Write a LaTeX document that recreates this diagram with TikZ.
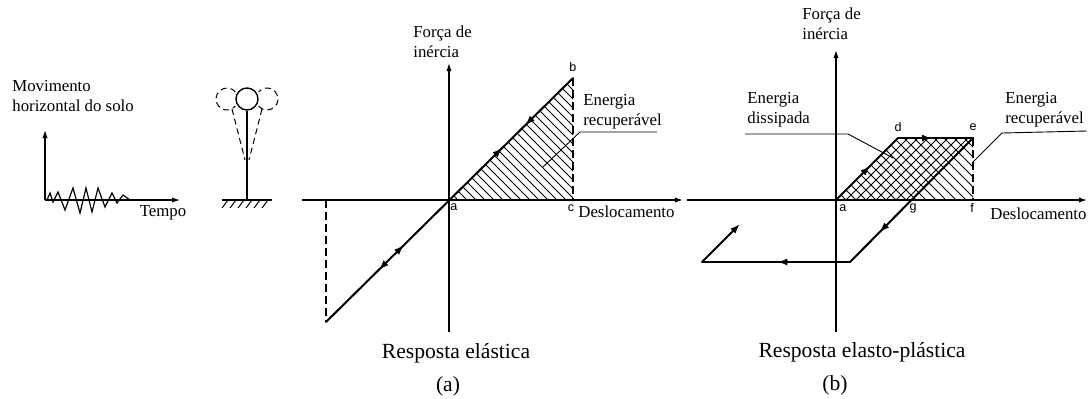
\documentclass[tikz,border=0pt]{standalone}
\usepackage{fontspec}
\setmainfont{Liberation Serif}
\newfontfamily\ptfont{Liberation Sans}
\usetikzlibrary{arrows.meta,decorations.markings}

\tikzset{
  txt/.style={font=\fontsize{8.4}{10}\selectfont, inner sep=0pt, align=left},
  ttl/.style={font=\fontsize{10.8}{12}\selectfont, inner sep=0pt},
  pt/.style={font=\ptfont\fontsize{6.3}{7}\selectfont, inner sep=0pt},
  ax/.style={line width=0.6pt},
  axarr/.style={ax, -{Latex[length=4pt,width=2.6pt]}},
  resp/.style={line width=1pt, line cap=round},
  guide/.style={line width=0.6pt, dash pattern=on 4pt off 2pt},
  hatch/.style={line width=0.5pt},
  lead/.style={line width=0.45pt},
  fwd/.style={postaction={decorate,decoration={markings,
      mark=at position #1 with {\arrow{Latex[length=5pt,width=3.6pt]}}}}},
  bwd/.style={postaction={decorate,decoration={markings,
      mark=at position #1 with {\arrowreversed{Latex[length=5pt,width=3.6pt]}}}}}
}

\begin{document}
\begin{tikzpicture}[x=0.5pt,y=-0.5pt]
  \useasboundingbox (0,0) rectangle (1089,398);

  % ground motion record
  \coordinate (gO) at (45,200); \coordinate (gY) at (45,130);
  \coordinate (gT) at (180,200);
  \draw [axarr] (gO) -- (gY); \draw [axarr] (gO) -- (gT);
  \draw [ax] (47,200) -- (50,193) -- (53,202) -- (58,192) -- (65,210)
    -- (73,188) -- (80,213) -- (86,188) -- (92,212) -- (98,188)
    -- (105,207) -- (112,193) -- (117,203) -- (123,195) -- (130,200);
  \node [txt, anchor=west] (mov) at (12,96) {Movimento\\horizontal do solo};
  \node [txt] (tempo) at (163,213) {Tempo};

  % structure on the ground
  \coordinate (grL) at (222,200); \coordinate (grR) at (272,200);
  \coordinate (rod) at (247,200);
  \draw [ax] (grL) -- (grR);
  \foreach \x in {228,236,...,268} \draw [hatch] (\x,200) -- (\x-6,208);
  \node [circle, draw, line width=0.7pt, minimum size=11pt, inner sep=0pt]
    (mass) at (247,99) {};
  \draw [ax] (rod) -- (mass.south);
  \coordinate (mL) at (227,99); \coordinate (mR) at (267,99);
  \draw [guide, line width=0.5pt, dash pattern=on 3pt off 2pt]
    ([shift={(40:5.5pt)}]mL) arc [start angle=40, end angle=320, radius=5.5pt];
  \draw [guide, line width=0.5pt, dash pattern=on 3pt off 2pt]
    ([shift={(-140:5.5pt)}]mR) arc [start angle=-140, end angle=140, radius=5.5pt];
  \coordinate (swL) at (232,109); \coordinate (swR) at (262,109);
  \coordinate (tipL) at (245,160); \coordinate (tipR) at (249,160);
  \draw [guide, line width=0.5pt, dash pattern=on 3pt off 2pt] (swL) -- (tipL);
  \draw [guide, line width=0.5pt, dash pattern=on 3pt off 2pt] (swR) -- (tipR);

  % (a) elastic response
  \coordinate (oA) at (449,200); \coordinate (bA) at (573,78);
  \coordinate (cA) at (573,200); \coordinate (lA) at (326,322);
  \coordinate (lxA) at (326,200);
  \coordinate (xsA) at (302,200); \coordinate (xeA) at (683,200);
  \coordinate (ysA) at (449,332); \coordinate (yeA) at (449,63);
  \begin{scope}
    \clip (oA) -- (bA) -- (cA) -- cycle;
    \foreach \s in {258,267,...,495} \draw [hatch] (\s+60,60) -- (\s+210,210);
  \end{scope}
  \draw [axarr] (xsA) -- (xeA); \draw [axarr] (ysA) -- (yeA);
  \draw [guide] (bA) -- (cA); \draw [guide] (lxA) -- (lA);
  \draw [resp, bwd=0.214, fwd=0.315, fwd=0.714, bwd=0.806] (lA) -- (bA);
  \node [pt] (labA) at (454,207) {a}; \node [pt] (labB) at (573,67) {b};
  \node [pt] (labC) at (571,208) {c};
  \node [txt, anchor=west] (desA) at (578,212) {Deslocamento};
  \node [txt, anchor=west] (forA) at (413,42) {Força de\\inércia};
  \node [txt, anchor=west] (recA) at (583,112) {Energia\\recuperável};
  \coordinate (u1A) at (580,132); \coordinate (u2A) at (657,132);
  \coordinate (u3A) at (543,167);
  \draw [lead] (u2A) -- (u1A) -- (u3A);
  \node [ttl] (tA) at (456,353) {Resposta elástica};
  \node [ttl] (capA) at (448,386) {(a)};

  % (b) elasto-plastic response
  \coordinate (oB) at (836,200); \coordinate (dB) at (898,138);
  \coordinate (eB) at (973,138); \coordinate (fB) at (973,200);
  \coordinate (gB) at (912,200); \coordinate (pB) at (850,262);
  \coordinate (qB) at (702,262); \coordinate (rB) at (740,224);
  \coordinate (xsB) at (687,200); \coordinate (xeB) at (1087,200);
  \coordinate (ysB) at (836,332); \coordinate (yeB) at (836,50);
  \begin{scope}
    \clip (oB) -- (dB) -- (eB) -- (fB) -- cycle;
    \foreach \s in {646,656,...,830} \draw [hatch] (\s+100,100) -- (\s+220,220);
  \end{scope}
  \begin{scope}
    \clip (oB) -- (dB) -- (eB) -- (gB) -- cycle;
    \foreach \s in {1046,1056,...,1106} \draw [hatch] (\s-100,100) -- (\s-220,220);
  \end{scope}
  \draw [axarr] (xsB) -- (xeB); \draw [axarr] (ysB) -- (yeB);
  \draw [guide] (eB) -- (fB);
  \draw [resp, fwd=0.55] (oB) -- (dB);
  \draw [resp, fwd=0.45] (dB) -- (eB);
  \draw [resp, fwd=0.76] (eB) -- (pB);
  \draw [resp, fwd=0.49] (pB) -- (qB);
  \draw [resp, -{Latex[length=5pt,width=3.6pt]}] (qB) -- (rB);
  \node [pt] (labD) at (898,127) {d}; \node [pt] (labE) at (973,127) {e};
  \node [pt] (labA2) at (843,208) {a}; \node [pt] (labG) at (913,208) {g};
  \node [pt] (labF) at (972,208) {f};
  \node [txt, anchor=west] (desB) at (990,214) {Deslocamento};
  \node [txt, anchor=west] (forB) at (802,24) {Força de\\inércia};
  \node [txt, anchor=west] (disB) at (747,110) {Energia\\dissipada};
  \coordinate (u1B) at (745,134); \coordinate (u2B) at (848,134);
  \coordinate (u3B) at (893,158);
  \draw [lead] (u1B) -- (u2B) -- (u3B);
  \node [txt, anchor=west] (recB) at (1005,110) {Energia\\recuperável};
  \coordinate (v1B) at (1087,131); \coordinate (v2B) at (1002,133);
  \coordinate (v3B) at (973,162);
  \draw [lead] (v1B) -- (v2B) -- (v3B);
  \node [ttl] (tB) at (862,352) {Resposta elasto-plástica};
  \node [ttl] (capB) at (835,385) {(b)};
\end{tikzpicture}
\end{document}
